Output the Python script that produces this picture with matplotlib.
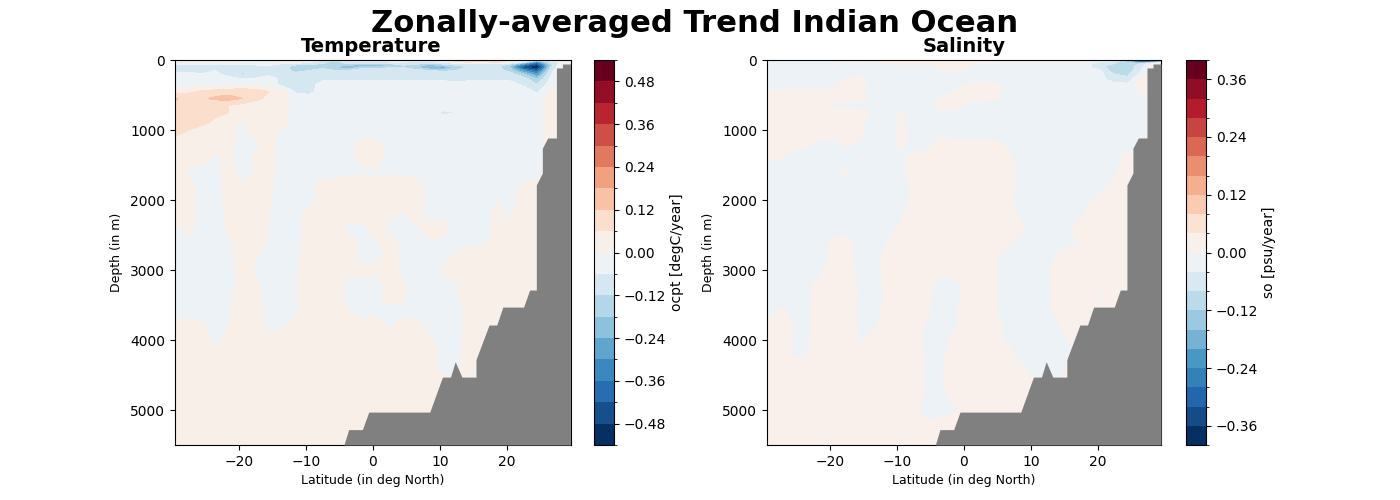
import numpy as np
import matplotlib
matplotlib.use("Agg")
import matplotlib.pyplot as plt
from matplotlib.colors import BoundaryNorm

latitudes = [-29.5,-27.5,-25.5,-23.5,-21.5,-19.5,-17.5,-15.5,-13.5,-11.5,-9.5,-7.5,-5.5,-3.5,-1.5,0.5,
             2.5,4.5,6.5,8.5,10.5,12.5,14.5,16.5,18.5,20.5,22.5,24.5,26.5,28.5,29.5]
depths = [0,25,50,80,110,150,200,270,350,450,550,650,750,900,1050,1200,1400,1600,1800,2000,2200,2400,
          2600,2800,3000,3200,3400,3600,3800,4000,4200,4400,4700,5000,5200,5500]

# trend in hundredths of a unit per year, one row per depth
temp_trend = [
 [3,3,4,4,3,3,-3,3,4,4,3,-5,-4,-3,-3,-3,-3,-3,-4,-3,3,8,8,5,12,3,-3,-7,-3,-3,-3],
 [-3,3,4,4,3,-3,-3,-3,3,3,-4,-10,-14,-6,-6,-5,-5,-5,-7,-6,-4,7,9,6,10,3,-5,-30,-8,-3,-3],
 [-5,-5,-4,-4,-4,-4,-4,-4,-6,-7,-8,-12,-16,-10,-14,-14,-12,-8,-10,-14,-10,-7,-7,-7,-6,-9,-26,-42,-12,-3,-3],
 [-8,-8,-7,-7,-7,-8,-7,-6,-9,-14,-14,-15,-16,-20,-22,-24,-18,-13,-16,-22,-18,-13,-10,-10,-9,-20,-40,-52,-16,3,3],
 [-8,-9,-9,-7,-7,-8,-9,-7,-8,-16,-16,-13,-18,-22,-13,-13,-12,-12,-16,-24,-28,-15,-10,-9,-9,-18,-44,-53,-13,3,3],
 [-7,-7,-8,-6,-8,-10,-9,-7,-9,-14,-12,-10,-12,-11,-10,-10,-9,-9,-10,-12,-13,-12,-11,-10,-8,-15,-30,-42,-9,3,3],
 [-5,-5,-6,-5,-8,-13,-12,-7,-9,-10,-9,-8,-8,-8,-8,-8,-8,-8,-9,-9,-9,-8,-8,-8,-8,-9,-18,-30,-7,3,3],
 [-3,-3,-4,-4,-4,-6,-5,-4,-7,-8,-8,-7,-7,-7,-7,-7,-7,-7,-7,-7,-7,-8,-7,-7,-7,-7,-9,-18,-5,3,3],
 [-3,-3,-3,-3,-3,-3,-2,-2,-8,-9,-8,-4,-4,-4,-4,-4,-4,-4,-4,-4,-4,-4,-4,-4,-4,-4,-7,-12,-3,3,3],
 [3,5,7,9,10,12,9,6,3,-7,-8,-3,-3,-3,-3,-3,-3,-3,-3,-3,-3,-3,-3,-3,-3,-3,-3,-7,1,3,3],
 [13,9,11,13,14,12,7,5,3,-3,-3,-3,-3,-3,-3,-3,-3,-3,-3,-3,-3,-3,-3,-3,-3,-3,-3,-3,3,3,3],
 [11,8,8,8,6,4,4,3,3,-3,-3,-3,-3,-3,-3,-3,-3,-3,-3,-3,-3,-3,-3,-3,-3,-3,-3,-3,3,3,3],
 [9,9,8,7,6,3,3,3,3,-3,-3,-3,-3,-3,-3,-3,-3,-3,-3,-3,-7,-6,-3,-3,-3,-3,-3,-3,3,3,3],
 [8,8,7,5,3,-1,3,3,3,-3,-3,-3,-3,-3,-3,-3,-3,-3,-3,-3,-3,-3,-3,-3,-3,-3,-3,-3,3,3,3],
 [7,5,3,3,3,-3,3,3,-3,-3,-3,-3,-3,-3,-3,-3,-3,-3,-3,-3,-3,-3,-3,-3,-3,-3,-3,-3,3,3,3],
 [3,3,3,3,3,-3,-2,3,-3,-3,-3,-3,-3,-2,3,3,-2,-3,-3,-3,-3,-3,-3,-3,-3,-3,-3,-3,3,3,3],
 [3,3,3,-1,1,-3,1,2,-3,-3,-3,-3,-3,-2,3,3,-3,-3,-3,-3,-3,-3,-3,-3,-3,-3,-3,-3,3,3,3],
 [3,-1,-3,-3,3,-3,1,3,-3,-3,-3,-3,-3,-1,-1,-1,-1,-1,-3,-3,-3,-3,-3,-3,-3,-3,-3,-3,3,3,3],
 [3,3,-3,-3,3,1,3,1,-3,-3,-2,3,3,3,3,3,3,3,3,-3,-3,-3,-3,-3,-3,-3,1,3,3,3,3],
 [3,3,-3,-3,2,3,3,1,-3,-3,-3,3,3,3,3,3,3,3,3,-3,-3,-3,-3,-3,0,-2,3,3,3,3,3],
 [3,3,-3,-3,1,3,3,0,-3,-3,2,3,3,3,3,3,3,-1,3,-3,-1,-3,-3,-3,2,-1,3,3,3,3,3],
 [-1,2,-3,-3,1,3,3,0,-3,-2,3,3,3,-2,-1,3,-2,-3,-1,3,2,-3,-3,-3,2,3,3,3,3,3,3],
 [-3,-1,-3,-3,-1,3,3,-1,-3,-3,3,3,3,3,-1,-1,3,-2,-3,-1,-1,-3,-1,-2,3,3,3,3,3,3,3],
 [-3,-3,-3,-3,-2,3,1,-3,-3,-1,3,3,-1,3,-3,-3,3,-1,-3,-3,-3,2,3,3,3,3,3,3,3,3,3],
 [-3,-3,-3,-3,-2,3,-1,-3,-3,-1,3,3,3,3,3,3,3,-2,-3,-3,1,3,3,3,3,3,3,3,3,3,3],
 [-3,-3,-3,-3,-3,2,1,-3,-3,0,3,3,3,-2,-3,-3,3,1,-3,-3,-3,0,3,3,3,3,3,3,3,3,3],
 [-3,-3,-3,-3,-1,3,3,-3,-3,0,3,3,3,-3,-3,-3,3,1,-3,-3,-3,-1,3,3,3,3,3,3,3,3,3],
 [-3,-3,-3,-3,-1,3,3,-3,-3,-1,3,3,3,0,-3,-1,-3,-2,-3,-3,-3,-3,3,3,3,3,3,3,3,3,3],
 [3,3,1,-3,0,3,3,-2,-1,3,3,3,3,3,3,3,-1,3,3,-2,-3,-3,3,3,3,3,3,3,3,3,3],
 [3,3,3,-1,1,3,3,3,3,3,3,3,3,3,3,3,3,3,3,1,-3,-2,3,3,3,3,3,3,3,3,3],
 [3,3,3,1,3,3,3,3,3,3,3,3,3,3,3,3,3,3,3,3,-2,-2,3,3,3,3,3,3,3,3,3],
 [3,3,3,3,3,3,3,3,3,3,3,3,3,3,3,3,3,3,3,3,-2,-1,3,3,3,3,3,3,3,3,3],
 [3]*31,
 [3]*31,
 [3]*31,
 [3]*31,
]

salt_trend = [
 [-3,-3,-3,-3,-3,-2,2,2,-1,2,2,2,2,-1,2,2,-1,2,2,2,2,2,2,2,2,-3,-3,-12,-25,-18,-10],
 [-3,-3,-3,-3,-3,-3,2,1,-1,2,3,3,3,2,3,3,2,2,3,2,2,2,2,1,1,-4,-5,-15,-30,-26,-18],
 [-3,-3,-3,-3,-3,-3,-3,-3,-2,2,2,2,2,2,3,2,-1,-2,-3,-3,-3,-3,-3,-3,-3,-6,-8,-10,-8,3,3],
 [-3,-3,-3,-3,-3,-3,-3,-3,-3,-3,-3,-3,-3,2,3,2,-3,-3,-3,-3,-3,-3,-3,-3,-3,-7,-10,-10,-6,3,3],
 [-3,-3,-3,-3,-3,-3,-3,-3,-3,-3,-3,-3,-3,2,2,1,-3,-3,-3,-3,-3,-3,-3,-3,-3,-6,-11,-11,-5,3,3],
 [-3,-3,-3,-3,-3,-3,-3,-3,-3,-3,-3,-3,-3,-1,1,-1,-3,-3,-3,-3,-3,-3,-3,-3,-3,-4,-11,-11,-4,3,3],
 [-3,-3,-3,-3,-3,-3,-3,-1,-3,-3,-3,-3,-3,-3,-2,-3,-3,-3,-3,-3,-3,-3,-3,-3,-3,-3,-8,-9,-3,3,3],
 [-3,-3,-3,-3,-3,-3,1,2,-3,-3,-3,-3,-3,-3,-3,-3,-3,-3,-3,-3,-3,-3,-3,-3,-3,-3,-6,-7,1,3,3],
 [-3,-3,-3,-3,-3,-1,2,2,-3,-3,-3,-3,-3,-3,-3,1,2,2,-3,-3,-3,-3,-3,-3,-3,-3,-3,-3,2,3,3],
 [0,1,1,1,1,2,2,1,-3,-3,-3,-3,-3,-3,0,2,2,2,-2,-3,-3,-3,-3,-3,-3,-3,-3,-3,1,3,3],
 [3,3,3,3,3,2,2,2,-2,-3,-3,-3,-3,1,2,2,2,1,-2,-3,-3,-3,-3,-3,-3,-3,-3,-3,-3,3,3],
 [3,3,3,3,3,-1,-2,-2,-3,-3,-3,-3,-3,2,2,-2,-3,-3,-3,-3,-3,-3,-3,-3,-3,-3,-3,-3,-3,3,3],
 [3,3,3,3,3,3,3,3,-1,-3,1,-3,-3,-1,-1,-3,-3,-3,-3,-3,-3,-3,-3,-3,-3,-3,-3,-3,-3,3,3],
 [3,3,3,3,3,3,3,1,-3,-3,1,-2,-3,-3,-3,-3,-3,-3,-3,-3,-3,-3,-3,-3,-3,-3,-3,-3,-3,3,3],
 [3,3,3,3,3,3,2,1,-3,-3,1,-1,-3,-1,-3,-3,-3,-3,-3,-1,-3,-3,-3,-3,-3,-3,-3,-3,-3,3,3],
 [3,3,3,1,-2,-2,1,-1,-3,-3,1,-2,-2,2,2,2,2,2,-1,-3,-3,-3,-3,-3,-3,-3,-3,-3,-3,3,3],
 [1,0,-3,-3,-3,-3,-3,-3,-3,-3,-1,2,2,3,3,3,3,3,1,-2,-3,-3,-3,-3,-3,-3,-3,3,3,3,3],
 [-3,-3,-3,-3,-3,-1,1,-3,-3,-3,-1,2,3,3,3,3,3,3,2,-1,-3,-3,-3,-3,-3,-3,-1,3,3,3,3],
 [-3,-3,-3,-3,-3,-3,-3,-3,-3,-3,-3,1,3,3,3,3,3,3,3,-3,-3,-3,-3,-3,-3,-2,2,3,3,3,3],
 [-3,-3,-3,-3,-3,-3,-3,-3,-3,-3,-3,2,3,3,3,3,3,3,2,-3,-3,-3,-3,-3,-1,2,3,3,3,3,3],
 [-3,-3,-3,-3,-3,-3,-3,-3,-3,-3,-1,3,3,3,3,3,2,0,2,-1,-3,-3,-3,-3,1,3,3,3,3,3,3],
 [-3,-3,-3,-3,-3,-3,-3,-3,-3,-2,1,3,3,3,3,3,3,3,3,1,-3,-3,-3,1,3,3,3,3,3,3,3],
 [-3,-3,-3,-3,-3,2,2,-3,-3,0,3,3,3,3,3,3,3,2,1,-2,-3,-3,-3,-1,3,3,3,3,3,3,3],
 [-3,-3,-3,-3,-3,2,2,-2,-3,2,3,3,3,3,3,3,3,1,-3,-3,-3,-3,2,2,3,3,3,3,3,3,3],
 [-3,-3,-3,-3,-1,3,2,-2,-3,2,3,3,3,3,3,3,3,1,-3,-3,-3,-1,3,3,3,3,3,3,3,3,3],
 [-3,-3,-3,-2,2,3,3,-1,-3,2,3,3,2,-3,-2,2,3,1,-3,-3,-3,-1,3,3,3,3,3,3,3,3,3],
 [-3,-3,-3,-1,3,3,3,-1,-3,1,3,3,1,-3,-3,3,3,1,-3,-3,-3,-1,3,3,1,-1,3,3,3,3,3],
 [-2,1,-1,-1,3,3,3,-2,-3,3,3,3,1,-3,-1,3,3,1,-3,-3,-3,-2,3,3,-1,3,3,3,3,3,3],
 [1,3,0,-1,3,3,3,-1,-1,3,3,3,-1,-3,-1,3,3,3,-2,-3,-3,-3,0,3,3,3,3,3,3,3,3],
 [3,3,-1,-1,3,3,3,-1,3,3,3,3,-2,-3,2,3,3,3,-1,-3,-3,-3,-3,3,3,3,3,3,3,3,3],
 [3,3,-1,0,3,3,3,3,3,3,3,3,-1,-2,3,3,3,3,3,-3,-3,-3,-3,-1,3,3,3,3,3,3,3],
 [3,3,2,1,3,3,3,3,3,3,3,3,-1,-1,3,3,3,3,3,1,-3,-3,-3,3,3,3,3,3,3,3,3],
 [3,3,3,3,3,3,3,3,3,3,3,3,-1,-1,3,3,3,3,3,3,3,3,3,3,3,3,3,3,3,3,3],
 [3,3,3,3,3,3,3,3,3,3,3,2,-3,-3,-1,3,3,3,3,3,3,3,3,3,3,3,3,3,3,3,3],
 [3,3,3,3,3,3,3,3,3,3,3,2,1,3,3,3,3,3,3,3,3,3,3,3,3,3,3,3,3,3,3],
 [3]*31,
]

# sea floor
floor_lat = [-4.3,-3.6,-1.55,-0.6,8.5,10.4,11.6,12.3,13.3,15.4,15.4,17.35,18.5,19.4,22.5,23.4,24.4,24.4,
             25.3,25.3,26.1,27.4,27.4,28.3,28.3,29.5]
floor_depth = [5500,5280,5280,5030,5030,4530,4530,4310,4530,4530,4280,3786,3786,3530,3530,3286,3286,1786,
               1614,1260,1114,1114,114,114,57,57]

temp_levels = np.arange(-54, 55, 6) / 100
salt_levels = np.arange(-40, 41, 4) / 100
temp_ticks = np.arange(-48, 49, 12) / 100
salt_ticks = np.arange(-36, 37, 12) / 100

fig = plt.figure(figsize=(14, 5), dpi=100)
W, H = 1400, 500


def box(x0, x1, y0=60, y1=445):
    return [x0 / W, 1 - y1 / H, (x1 - x0) / W, (y1 - y0) / H]


panels = [
    ("Temperature", temp_trend, temp_levels, temp_ticks, "ocpt [degC/year]", (175, 570.5), (594, 614), 371.5),
    ("Salinity", salt_trend, salt_levels, salt_ticks, "so [psu/year]", (767, 1161), (1186, 1206), 964),
]
for title, trend, levels, ticks, label, ax_x, cb_x, title_x in panels:
    ax = fig.add_axes(box(*ax_x))
    cax = fig.add_axes(box(*cb_x))
    norm = BoundaryNorm(levels, ncolors=256)
    cs = ax.contourf(latitudes, depths, np.array(trend) / 100, levels=levels, cmap="RdBu_r", norm=norm)
    ax.fill_between(floor_lat, floor_depth, 5500, color="#808080", lw=0, zorder=3)
    ax.set_xlim(-29.5, 29.5)
    ax.set_ylim(5500, 0)
    ax.set_xticks([-20, -10, 0, 10, 20])
    ax.set_yticks([0, 1000, 2000, 3000, 4000, 5000])
    ax.set_xlabel("Latitude (in deg North)", fontsize=9)
    ax.set_ylabel("Depth (in m)", fontsize=9, labelpad=5)
    fig.text(title_x / W, 1 - 52.5 / H, title, ha="center", va="baseline", fontsize=14, fontweight="bold")
    cb = fig.colorbar(cs, cax=cax)
    cb.set_ticks(ticks)
    cb.ax.set_yticks(levels, minor=True)
    cb.ax.tick_params(which="minor", length=2)
    cb.set_label(label, fontsize=10, labelpad=3)

fig.text(695 / W, 1 - 23 / H, "Zonally-averaged Trend Indian Ocean", ha="center", va="center",
         fontsize=22.05, fontweight="bold")
fig.savefig("out.png", dpi=100)
